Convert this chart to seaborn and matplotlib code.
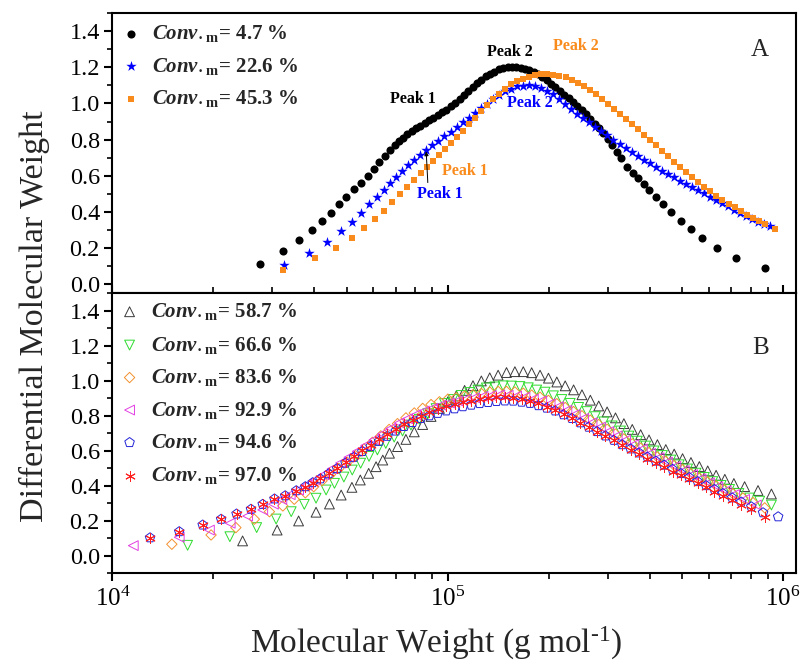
import numpy as np
import matplotlib
matplotlib.use("Agg")
import matplotlib.pyplot as plt
import seaborn as sns
from matplotlib.ticker import (FixedLocator, MultipleLocator, LogLocator,
                               NullFormatter, FormatStrFormatter,
                               LogFormatterSciNotation)

# ---------------------------------------------------------------------------
# GPC traces: log10(M / g mol-1) and differential molecular weight
# ---------------------------------------------------------------------------
CONV_TOP = ["4.7", "22.6", "45.3"]
CONV_BOT = ["58.7", "66.6", "83.6", "92.9", "94.6", "97.0"]

# Panel A -------------------------------------------------------------------
A1_LOGM = [4.440, 4.508, 4.555, 4.594, 4.625, 4.652, 4.675, 4.697, 4.719, 4.740,
           4.761, 4.779, 4.796, 4.813, 4.828, 4.841, 4.853, 4.866, 4.879, 4.892,
           4.905, 4.918, 4.931, 4.944, 4.957, 4.970, 4.983, 4.996, 5.009, 5.022,
           5.035, 5.048, 5.061, 5.074, 5.087, 5.100, 5.113, 5.126, 5.139, 5.152,
           5.165, 5.178, 5.191, 5.204, 5.217, 5.230, 5.243, 5.256, 5.269, 5.282,
           5.295, 5.308, 5.321, 5.334, 5.347, 5.360, 5.373, 5.386, 5.399, 5.412,
           5.425, 5.438, 5.451, 5.464, 5.477, 5.490, 5.503, 5.516, 5.535, 5.551,
           5.567, 5.584, 5.601, 5.620, 5.642, 5.667, 5.695, 5.724, 5.759, 5.803,
           5.860, 5.945]
A1_VAL = [0.111, 0.184, 0.245, 0.300, 0.350, 0.396, 0.443, 0.485, 0.526, 0.562,
          0.601, 0.638, 0.675, 0.712, 0.743, 0.771, 0.790, 0.811, 0.831, 0.847,
          0.863, 0.878, 0.893, 0.907, 0.921, 0.936, 0.951, 0.966, 0.986, 1.005,
          1.024, 1.047, 1.070, 1.092, 1.112, 1.131, 1.150, 1.163, 1.176, 1.188,
          1.196, 1.201, 1.203, 1.202, 1.198, 1.191, 1.183, 1.172, 1.161, 1.146,
          1.127, 1.109, 1.090, 1.069, 1.049, 1.029, 1.008, 0.986, 0.964, 0.939,
          0.915, 0.889, 0.862, 0.834, 0.804, 0.768, 0.732, 0.700, 0.651, 0.614,
          0.585, 0.553, 0.522, 0.485, 0.443, 0.398, 0.350, 0.304, 0.255, 0.202,
          0.147, 0.088]

A2_LOGM = [4.510, 4.585, 4.639, 4.682, 4.715, 4.742, 4.766, 4.788, 4.809, 4.828,
           4.846, 4.864, 4.882, 4.900, 4.918, 4.936, 4.954, 4.972, 4.990, 5.008,
           5.026, 5.044, 5.062, 5.080, 5.098, 5.116, 5.134, 5.152, 5.170, 5.188,
           5.206, 5.224, 5.242, 5.260, 5.278, 5.296, 5.314, 5.332, 5.350, 5.368,
           5.386, 5.404, 5.422, 5.440, 5.458, 5.476, 5.494, 5.512, 5.530, 5.548,
           5.566, 5.584, 5.602, 5.620, 5.638, 5.656, 5.674, 5.692, 5.710, 5.728,
           5.746, 5.764, 5.782, 5.800, 5.818, 5.836, 5.854, 5.872, 5.890, 5.908,
           5.926, 5.944, 5.962]
A2_VAL = [0.107, 0.171, 0.236, 0.295, 0.346, 0.396, 0.443, 0.485, 0.522, 0.559,
          0.596, 0.627, 0.657, 0.686, 0.713, 0.740, 0.768, 0.794, 0.820, 0.844,
          0.869, 0.895, 0.920, 0.947, 0.974, 0.999, 1.024, 1.046, 1.067, 1.082,
          1.096, 1.099, 1.100, 1.094, 1.086, 1.068, 1.050, 1.023, 0.995, 0.969,
          0.944, 0.920, 0.895, 0.871, 0.847, 0.823, 0.798, 0.775, 0.752, 0.730,
          0.709, 0.688, 0.668, 0.648, 0.629, 0.610, 0.592, 0.573, 0.556, 0.538,
          0.520, 0.503, 0.485, 0.468, 0.449, 0.431, 0.412, 0.394, 0.375, 0.359,
          0.345, 0.332, 0.320]

A3_LOGM = [4.508, 4.604, 4.666, 4.713, 4.750, 4.782, 4.810, 4.835, 4.858, 4.879,
           4.899, 4.919, 4.937, 4.955, 4.973, 4.991, 5.009, 5.027, 5.045, 5.063,
           5.081, 5.099, 5.117, 5.135, 5.153, 5.171, 5.189, 5.207, 5.225, 5.243,
           5.261, 5.279, 5.297, 5.315, 5.333, 5.351, 5.369, 5.387, 5.405, 5.423,
           5.441, 5.459, 5.477, 5.495, 5.513, 5.531, 5.549, 5.567, 5.585, 5.603,
           5.621, 5.639, 5.657, 5.675, 5.693, 5.711, 5.729, 5.747, 5.765, 5.783,
           5.801, 5.819, 5.837, 5.855, 5.873, 5.891, 5.909, 5.927, 5.945, 5.975]
A3_VAL = [0.079, 0.145, 0.201, 0.255, 0.312, 0.361, 0.407, 0.456, 0.500, 0.540,
          0.577, 0.614, 0.651, 0.684, 0.715, 0.746, 0.779, 0.812, 0.848, 0.886,
          0.922, 0.957, 0.991, 1.023, 1.055, 1.081, 1.106, 1.123, 1.137, 1.149,
          1.156, 1.163, 1.161, 1.158, 1.153, 1.145, 1.132, 1.115, 1.097, 1.074,
          1.051, 1.026, 0.999, 0.972, 0.944, 0.915, 0.886, 0.857, 0.828, 0.800,
          0.768, 0.738, 0.708, 0.679, 0.649, 0.620, 0.592, 0.565, 0.539, 0.515,
          0.490, 0.468, 0.446, 0.425, 0.405, 0.385, 0.368, 0.352, 0.335, 0.304]

# Panel B -------------------------------------------------------------------
B1_LOGM = [4.388, 4.491, 4.555, 4.607, 4.647, 4.682, 4.714, 4.739, 4.764, 4.786,
           4.806, 4.826, 4.850, 4.875, 4.900, 4.925, 4.950, 4.975, 5.000, 5.025,
           5.050, 5.075, 5.100, 5.125, 5.150, 5.175, 5.200, 5.225, 5.250, 5.275,
           5.300, 5.325, 5.350, 5.375, 5.400, 5.425, 5.450, 5.475, 5.500, 5.525,
           5.550, 5.575, 5.600, 5.625, 5.650, 5.675, 5.700, 5.725, 5.750, 5.775,
           5.800, 5.826, 5.853, 5.885, 5.925, 5.965]
B1_VAL = [0.085, 0.147, 0.199, 0.249, 0.296, 0.347, 0.391, 0.433, 0.471, 0.509,
          0.547, 0.586, 0.624, 0.665, 0.708, 0.750, 0.796, 0.842, 0.880, 0.913,
          0.945, 0.972, 0.999, 1.017, 1.032, 1.047, 1.052, 1.052, 1.046, 1.032,
          1.015, 0.993, 0.971, 0.948, 0.920, 0.889, 0.856, 0.822, 0.788, 0.755,
          0.722, 0.692, 0.662, 0.635, 0.607, 0.581, 0.555, 0.533, 0.510, 0.485,
          0.460, 0.437, 0.413, 0.395, 0.373, 0.353]

B2_LOGM = [4.224, 4.350, 4.430, 4.488, 4.533, 4.572, 4.607, 4.637, 4.662, 4.690,
           4.715, 4.740, 4.765, 4.790, 4.815, 4.840, 4.865, 4.890, 4.915, 4.940,
           4.965, 4.990, 5.015, 5.040, 5.065, 5.090, 5.115, 5.140, 5.165, 5.190,
           5.215, 5.240, 5.265, 5.290, 5.315, 5.340, 5.365, 5.390, 5.415, 5.440,
           5.465, 5.490, 5.515, 5.540, 5.565, 5.590, 5.615, 5.640, 5.665, 5.690,
           5.715, 5.740, 5.765, 5.790, 5.815, 5.840, 5.868, 5.900, 5.930, 5.965]
B2_VAL = [0.060, 0.109, 0.161, 0.210, 0.252, 0.294, 0.329, 0.376, 0.414, 0.450,
          0.490, 0.529, 0.568, 0.605, 0.642, 0.678, 0.713, 0.747, 0.780, 0.812,
          0.841, 0.870, 0.893, 0.916, 0.933, 0.947, 0.959, 0.965, 0.971, 0.970,
          0.967, 0.960, 0.947, 0.935, 0.914, 0.893, 0.871, 0.848, 0.824, 0.795,
          0.765, 0.742, 0.713, 0.684, 0.655, 0.627, 0.599, 0.573, 0.547, 0.520,
          0.496, 0.472, 0.448, 0.424, 0.402, 0.379, 0.356, 0.330, 0.312, 0.290]

B3_LOGM = [4.177, 4.294, 4.368, 4.423, 4.468, 4.508, 4.542, 4.575, 4.600, 4.625,
           4.650, 4.675, 4.700, 4.725, 4.750, 4.775, 4.800, 4.825, 4.850, 4.875,
           4.900, 4.925, 4.950, 4.975, 5.000, 5.025, 5.050, 5.075, 5.100, 5.125,
           5.150, 5.175, 5.200, 5.225, 5.250, 5.275, 5.300, 5.325, 5.350, 5.375,
           5.400, 5.425, 5.450, 5.475, 5.500, 5.525, 5.550, 5.575, 5.600, 5.625,
           5.650, 5.675, 5.700, 5.725, 5.750, 5.775, 5.800, 5.825, 5.850, 5.880,
           5.910, 5.945]
B3_VAL = [0.066, 0.119, 0.161, 0.209, 0.252, 0.285, 0.323, 0.360, 0.395, 0.429,
          0.464, 0.499, 0.535, 0.572, 0.610, 0.648, 0.685, 0.722, 0.755, 0.788,
          0.816, 0.842, 0.864, 0.880, 0.895, 0.903, 0.912, 0.920, 0.928, 0.936,
          0.939, 0.939, 0.936, 0.929, 0.918, 0.906, 0.888, 0.869, 0.847, 0.824,
          0.800, 0.775, 0.750, 0.723, 0.696, 0.668, 0.640, 0.615, 0.590, 0.565,
          0.540, 0.516, 0.493, 0.469, 0.445, 0.423, 0.400, 0.378, 0.355, 0.330,
          0.304, 0.274]

B4_LOGM = [4.062, 4.199, 4.289, 4.351, 4.403, 4.448, 4.480, 4.505, 4.530, 4.555,
           4.580, 4.605, 4.630, 4.655, 4.680, 4.705, 4.730, 4.755, 4.780, 4.805,
           4.830, 4.855, 4.880, 4.905, 4.930, 4.955, 4.980, 5.005, 5.030, 5.055,
           5.080, 5.105, 5.130, 5.155, 5.180, 5.205, 5.230, 5.255, 5.280, 5.305,
           5.330, 5.355, 5.380, 5.405, 5.430, 5.455, 5.480, 5.505, 5.530, 5.555,
           5.580, 5.605, 5.630, 5.655, 5.680, 5.705, 5.730, 5.755, 5.780, 5.805,
           5.830, 5.855, 5.885, 5.920]
B4_VAL = [0.058, 0.106, 0.147, 0.186, 0.227, 0.262, 0.295, 0.322, 0.349, 0.376,
          0.404, 0.433, 0.463, 0.497, 0.530, 0.563, 0.597, 0.630, 0.663, 0.696,
          0.727, 0.759, 0.783, 0.806, 0.827, 0.843, 0.860, 0.873, 0.885, 0.895,
          0.903, 0.911, 0.915, 0.919, 0.917, 0.912, 0.906, 0.895, 0.885, 0.868,
          0.852, 0.831, 0.808, 0.785, 0.760, 0.735, 0.710, 0.685, 0.660, 0.635,
          0.610, 0.585, 0.560, 0.535, 0.511, 0.487, 0.464, 0.440, 0.417, 0.395,
          0.372, 0.350, 0.322, 0.290]

B5_LOGM = [4.112, 4.199, 4.269, 4.324, 4.370, 4.413, 4.448, 4.483, 4.515, 4.548,
           4.575, 4.597, 4.620, 4.645, 4.670, 4.695, 4.720, 4.745, 4.770, 4.795,
           4.820, 4.845, 4.870, 4.895, 4.920, 4.945, 4.970, 4.995, 5.020, 5.045,
           5.070, 5.095, 5.120, 5.145, 5.170, 5.195, 5.220, 5.245, 5.270, 5.295,
           5.320, 5.345, 5.370, 5.395, 5.420, 5.445, 5.470, 5.495, 5.520, 5.545,
           5.570, 5.595, 5.620, 5.645, 5.670, 5.695, 5.720, 5.745, 5.770, 5.795,
           5.820, 5.848, 5.875, 5.905, 5.940, 5.985]
B5_VAL = [0.103, 0.138, 0.176, 0.209, 0.239, 0.266, 0.294, 0.325, 0.343, 0.372,
          0.395, 0.418, 0.440, 0.469, 0.498, 0.530, 0.563, 0.596, 0.625, 0.654,
          0.683, 0.713, 0.739, 0.762, 0.785, 0.800, 0.814, 0.828, 0.840, 0.852,
          0.861, 0.870, 0.876, 0.882, 0.885, 0.884, 0.878, 0.871, 0.858, 0.844,
          0.828, 0.806, 0.785, 0.760, 0.735, 0.710, 0.685, 0.660, 0.635, 0.611,
          0.588, 0.564, 0.541, 0.518, 0.494, 0.470, 0.447, 0.424, 0.401, 0.379,
          0.356, 0.331, 0.307, 0.280, 0.246, 0.223]

B6_LOGM = [4.112, 4.199, 4.269, 4.324, 4.370, 4.413, 4.448, 4.483, 4.515, 4.548,
           4.575, 4.597, 4.620, 4.645, 4.670, 4.695, 4.720, 4.745, 4.770, 4.795,
           4.820, 4.845, 4.870, 4.895, 4.920, 4.945, 4.970, 4.995, 5.020, 5.045,
           5.070, 5.095, 5.120, 5.145, 5.170, 5.195, 5.220, 5.245, 5.270, 5.295,
           5.320, 5.345, 5.370, 5.395, 5.420, 5.445, 5.470, 5.495, 5.520, 5.545,
           5.570, 5.595, 5.620, 5.645, 5.670, 5.695, 5.720, 5.745, 5.770, 5.795,
           5.820, 5.848, 5.875, 5.905, 5.945]
B6_VAL = [0.103, 0.138, 0.176, 0.209, 0.239, 0.266, 0.294, 0.325, 0.343, 0.372,
          0.395, 0.418, 0.445, 0.474, 0.503, 0.535, 0.568, 0.602, 0.635, 0.668,
          0.698, 0.727, 0.754, 0.777, 0.800, 0.819, 0.838, 0.853, 0.865, 0.877,
          0.886, 0.896, 0.901, 0.906, 0.906, 0.902, 0.898, 0.884, 0.871, 0.852,
          0.832, 0.810, 0.785, 0.760, 0.735, 0.710, 0.685, 0.659, 0.633, 0.606,
          0.580, 0.555, 0.530, 0.505, 0.481, 0.459, 0.436, 0.414, 0.391, 0.367,
          0.343, 0.316, 0.292, 0.265, 0.223]

# ---------------------------------------------------------------------------
# Style
# ---------------------------------------------------------------------------
sns.set_style("ticks")
plt.rcParams.update({
    "font.family": ["Liberation Serif", "DejaVu Serif"],
    "mathtext.fontset": "custom",
    "mathtext.rm": "Liberation Serif",
    "mathtext.it": "Liberation Serif:italic:bold",
    "mathtext.bf": "Liberation Serif:bold",
    "axes.edgecolor": "black",
    "axes.linewidth": 1.5,
    "xtick.color": "black",
    "ytick.color": "black",
    "xtick.labelsize": 18,
    "ytick.labelsize": 17.5,
})

ORANGE = "#F98B1C"
top_styles = [
    dict(marker="o", s=34, color="black", edgecolor="black", linewidth=0),
    dict(marker="*", s=62, color="#0000FF", edgecolor="#0000FF", linewidth=0),
    dict(marker="s", s=23, color=ORANGE, edgecolor=ORANGE, linewidth=0),
]
bot_colors = ["#3A3A3A", "#2EDB2E", "#F2912F", "#E23FE2", "#2323D8", "#FF2020"]
bot_markers = ["^", "v", "D", "<", "p", (6, 2, 0)]
bot_sizes = [50, 50, 28, 50, 52, 50]
bot_styles = []
for c, m, s in zip(bot_colors, bot_markers, bot_sizes):
    st = dict(marker=m, s=s, color=c, edgecolor=c, linewidth=0.7)
    if m != (6, 2, 0):
        st["facecolor"] = "none"
    bot_styles.append(st)

top_series = [(A1_LOGM, A1_VAL), (A2_LOGM, A2_VAL), (A3_LOGM, A3_VAL)]
bot_series = [(B1_LOGM, B1_VAL), (B2_LOGM, B2_VAL), (B3_LOGM, B3_VAL),
              (B4_LOGM, B4_VAL), (B5_LOGM, B5_VAL), (B6_LOGM, B6_VAL)]

fig = plt.figure(figsize=(8.04, 6.72), dpi=100)
ax_top = fig.add_axes([0.1399, 0.5635, 0.8498, 0.4171])
ax_bot = fig.add_axes([0.1399, 0.1469, 0.8498, 0.4167])

for (lm, v), st in zip(top_series, top_styles):
    sns.scatterplot(x=10 ** np.asarray(lm), y=v, ax=ax_top, legend=False, **st)
for (lm, v), st in zip(bot_series, bot_styles):
    sns.scatterplot(x=10 ** np.asarray(lm), y=v, ax=ax_bot, legend=False, **st)

for ax, ylim in ((ax_top, (-0.05, 1.5)), (ax_bot, (-0.1, 1.5))):
    ax.set_xscale("log")
    ax.set_xlim(1e4, 1.09e6)
    ax.set_ylim(*ylim)
    ax.set_xlabel("")
    ax.set_ylabel("")
    ax.xaxis.set_major_locator(FixedLocator([1e4, 1e5, 1e6]))
    ax.xaxis.set_minor_locator(LogLocator(base=10, subs=np.arange(2, 10), numticks=20))
    ax.xaxis.set_minor_formatter(NullFormatter())
    ax.yaxis.set_major_locator(FixedLocator(np.round(np.arange(0, 1.41, 0.2), 1)))
    ax.yaxis.set_minor_locator(MultipleLocator(0.1))
    ax.yaxis.set_major_formatter(FormatStrFormatter("%.1f"))
    ax.tick_params(axis="y", which="major", direction="out", length=6, width=1.5, pad=3)
    ax.tick_params(axis="y", which="minor", direction="out", length=3.5, width=1.2)
    for sp in ax.spines.values():
        sp.set_visible(True)
        sp.set_linewidth(1.5)
        sp.set_color("black")

ax_top.tick_params(axis="x", which="major", direction="in", length=6, width=1.5,
                   labelbottom=False)
ax_top.tick_params(axis="x", which="minor", direction="in", length=4, width=1.2)
ax_bot.tick_params(axis="x", which="major", direction="out", length=6, width=1.5, pad=4)
ax_bot.tick_params(axis="x", which="minor", direction="out", length=4, width=1.2)
ax_bot.xaxis.set_major_formatter(LogFormatterSciNotation())

# Legends drawn as marker + label rows
def legend_rows(ax, styles, convs, x_mark, x_text, y_rows):
    for st, cv, y in zip(styles, convs, y_rows):
        ax.scatter([x_mark], [y], transform=ax.transAxes, clip_on=False, **st)
        ax.text(x_text, y, r"$\mathit{Conv.}_{\mathbf{m}}$= " + cv + " %",
                transform=ax.transAxes, fontsize=15, fontweight="bold",
                ha="left", va="center")

legend_rows(ax_top, top_styles, CONV_TOP, 0.027, 0.058, [0.926, 0.810, 0.694])
legend_rows(ax_bot, bot_styles, CONV_BOT, 0.025, 0.056,
            [0.934, 0.815, 0.699, 0.583, 0.467, 0.349])

# Peak labels
peak_kw = dict(fontsize=11.5, fontweight="bold", ha="center", va="center")
ax_top.text(10 ** 4.895, 1.026, "Peak 1", color="black", **peak_kw)
ax_top.text(10 ** 5.184, 1.286, "Peak 2", color="black", **peak_kw)
ax_top.text(10 ** 5.381, 1.319, "Peak 2", color=ORANGE, **peak_kw)
ax_top.text(10 ** 5.244, 1.004, "Peak 2", color="#0000FF", **peak_kw)
ax_top.text(10 ** 5.050, 0.629, "Peak 1", color=ORANGE, **peak_kw)
ax_top.annotate("Peak 1", xy=(10 ** 4.9355, 0.735), xytext=(10 ** 4.975, 0.50),
                color="#0000FF",
                arrowprops=dict(arrowstyle="-|>", color="black", lw=0.7,
                                mutation_scale=6, shrinkA=0, shrinkB=0,
                                relpos=(0.25, 1.0)),
                **peak_kw)

ax_top.text(0.948, 0.868, "A", transform=ax_top.transAxes, fontsize=18,
            ha="center", va="center")
ax_bot.text(0.949, 0.806, "B", transform=ax_bot.transAxes, fontsize=18,
            ha="center", va="center")

fig.text(0.043, 0.53, "Differential Molecular Weight", rotation=90,
         fontsize=24.5, ha="center", va="center")
fig.text(0.542, 0.043, r"Molecular Weight (g mol$^{\text{-1}}$)",
         fontsize=24, ha="center", va="center")

fig.savefig("out.png", dpi=100, facecolor="white")
